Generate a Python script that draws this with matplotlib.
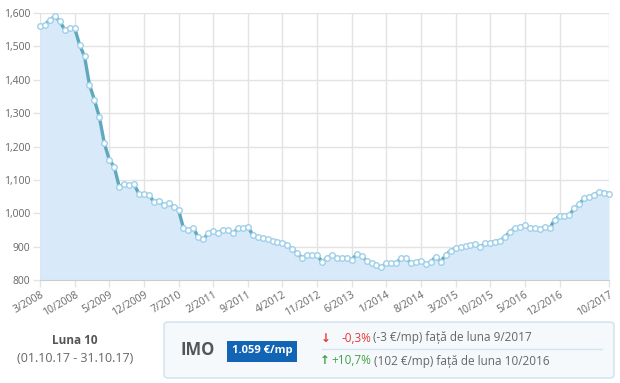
import matplotlib.pyplot as plt
from matplotlib.patches import FancyBboxPatch
import numpy as np

plt.rcParams['font.family'] = ['Open Sans', 'DejaVu Sans']

# monthly price index (EUR/mp), 3/2008 .. 10/2017
prices = [1560, 1565, 1580, 1590, 1575, 1550, 1555, 1555, 1505, 1470,
          1385, 1340, 1288, 1210, 1160, 1140, 1080, 1087, 1084, 1087,
          1058, 1058, 1055, 1035, 1037, 1025, 1030, 1020, 1010, 955,
          950, 955, 928, 922, 940, 947, 942, 950, 949, 940,
          955, 955, 960, 935, 928, 925, 922, 918, 915, 910,
          905, 892, 880, 867, 875, 875, 875, 855, 865, 875,
          867, 867, 867, 860, 878, 872, 858, 850, 845, 838,
          852, 852, 852, 865, 865, 850, 855, 857, 848, 855,
          870, 855, 875, 888, 895, 898, 901, 905, 908, 900,
          910, 912, 915, 918, 930, 945, 955, 958, 965, 955,
          955, 952, 958, 955, 980, 992, 992, 995, 1015, 1028,
          1045, 1048, 1055, 1065, 1062, 1059]
months = np.arange(len(prices))

xtick_pos = [0, 7, 14, 21, 28, 35, 42, 49, 56, 63, 70, 77, 84, 91, 98, 105, 115]
xtick_lbl = ['3/2008', '10/2008', '5/2009', '12/2009', '7/2010', '2/2011',
             '9/2011', '4/2012', '11/2012', '6/2013', '1/2014', '8/2014',
             '3/2015', '10/2015', '5/2016', '12/2016', '10/2017']
ytick_pos = [800, 900, 1000, 1100, 1200, 1300, 1400, 1500, 1600]

fig = plt.figure(figsize=(6.2, 3.83), dpi=100)
ax = fig.add_axes([40/620, 1-280/383, 569/620, 267/383])

ax.fill_between(months, prices, 800, color='#d8e9f9', lw=0)
ax.plot(months, prices, color='#5ea9bd', lw=2.4, clip_on=False, zorder=3)
ax.plot(months, prices, ls='none', marker='o', ms=4, mfc='white',
        mec='#9fd0ea', mew=1, clip_on=False, zorder=4)

ax.set_xlim(0, 115)
ax.set_ylim(800, 1600)
ax.set_xticks(xtick_pos)
ax.set_xticklabels(xtick_lbl, rotation=30, ha='right', rotation_mode='anchor')
ax.set_yticks(ytick_pos)
ax.set_yticklabels(['{:,}'.format(v) for v in ytick_pos])
ax.grid(True, color='#e3e3e3', lw=1)
ax.set_axisbelow(True)
for s in ['top', 'right', 'left']:
    ax.spines[s].set_visible(False)
ax.spines['bottom'].set_color('#cccccc')
ax.tick_params(axis='both', colors='#e3e3e3', labelcolor='#666666',
               labelsize=7.5, length=5, width=1, pad=2)

# info panel
fig.text(75/620, 1-340/383, 'Luna 10', ha='center', va='center',
         fontsize=8.5, fontweight='bold', color='#555555')
fig.text(75/620, 1-358/383, '(01.10.17 - 31.10.17)', ha='center', va='center',
         fontsize=9, color='#666666')

box = FancyBboxPatch((164/620, 1-378/383), 450/620, 56/383,
                     boxstyle='round,pad=0,rounding_size=0.008',
                     transform=fig.transFigure, fc='#f6f9fc', ec='#cfe0ee', lw=1)
fig.patches.append(box)

fig.text(180/620, 1-350/383, 'IMO', ha='left', va='center',
         fontsize=12, fontweight='bold', color='#555555')
fig.text(262/620, 1-351/383, '1.059 €/mp', ha='center', va='center',
         fontsize=8, fontweight='bold', color='white',
         bbox=dict(boxstyle='square,pad=0.45', fc='#1264b4', ec='none'))

fig.add_artist(plt.Line2D([322/620, 602/620], [1-349/383, 1-349/383],
                          color='#d6e4ef', lw=1))
fig.text(321/620, 1-338/383, '↓', ha='left', va='center',
         fontsize=8.5, fontweight='bold', color='#e53935')
fig.text(342/620, 1-338/383, '-0,3%', ha='left', va='center',
         fontsize=8.5, color='#e53935')
fig.text(373/620, 1-338/383, '(-3 €/mp) față de luna 9/2017', ha='left',
         va='center', fontsize=8.5, color='#666666')
fig.text(320/620, 1-361/383, '↑', ha='left', va='center',
         fontsize=8.5, fontweight='bold', color='#43a047')
fig.text(331/620, 1-361/383, '+10,7%', ha='left', va='center',
         fontsize=8.5, color='#43a047')
fig.text(374/620, 1-361/383, '(102 €/mp) față de luna 10/2016', ha='left',
         va='center', fontsize=8.5, color='#666666')

fig.savefig('out.png', dpi=100)
